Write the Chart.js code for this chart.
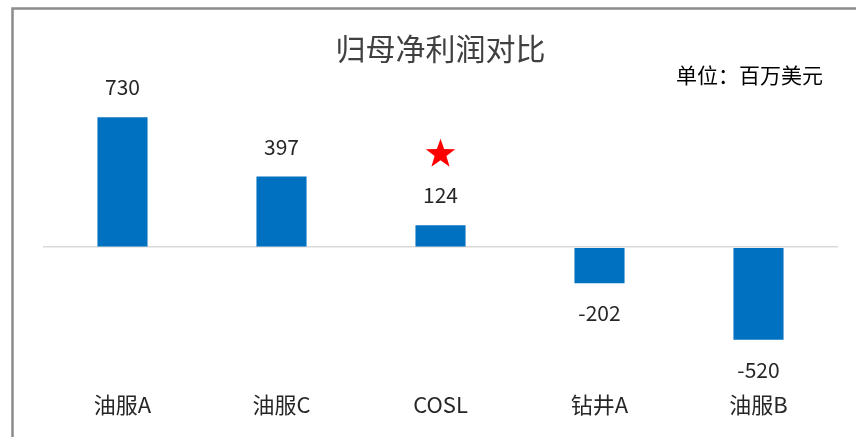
<!DOCTYPE html>
<html>
<head>
<meta charset="utf-8">
<title>归母净利润对比</title>
<script src="https://cdn.jsdelivr.net/npm/chart.js@4.4.0/dist/chart.umd.min.js"></script>
<style>
    html, body { margin: 0; padding: 0; background: #ffffff; }
    #wrap { position: relative; width: 856px; height: 437px; }
</style>
</head>
<body>
<div id="wrap"><canvas id="profit-chart" width="856" height="437"></canvas></div>
<script>
// Chart data
const companies = ['油服A', '油服C', 'COSL', '钻井A', '油服B'];
const netProfit = [730, 397, 124, -202, -520];
const highlightCompany = 'COSL';
const unitLabel = '单位：百万美元';

const FONT = '"Noto Sans CJK SC", "Microsoft YaHei", sans-serif';

document.addEventListener("DOMContentLoaded", function() {
    // Frame around the chart (only top and left edges are visible)
    const framePlugin = {
        id: 'frame',
        beforeDraw(chart) {
            const ctx = chart.ctx;
            ctx.save();
            ctx.fillStyle = '#ffffff';
            ctx.fillRect(0, 0, chart.width, chart.height);
            ctx.strokeStyle = '#8c8c8c';
            ctx.lineWidth = 2.5;
            ctx.strokeRect(12.5, 8.5, chart.width + 20, chart.height + 20);
            ctx.restore();
        }
    };

    // Value labels, unit text and the red star
    const labelsPlugin = {
        id: 'valueLabels',
        afterDatasetsDraw(chart) {
            const ctx = chart.ctx;
            const meta = chart.getDatasetMeta(0);
            ctx.save();
            ctx.font = '21px ' + FONT;
            ctx.textAlign = 'center';
            ctx.textBaseline = 'middle';
            meta.data.forEach((bar, i) => {
                const v = netProfit[i];
                const y = v >= 0 ? bar.y - 30 : bar.y + 30;
                ctx.fillStyle = '#262626';
                ctx.fillText(String(v), bar.x, y);

                if (companies[i] === highlightCompany) {
                    drawStar(ctx, bar.x, bar.y - 71, 15.5, 6.2);
                }
            });

            // unit note in the upper right
            ctx.textAlign = 'right';
            ctx.fillStyle = '#000000';
            ctx.fillText(unitLabel, 823, 75);
            ctx.restore();
        }
    };

    function drawStar(ctx, cx, cy, outer, inner) {
        ctx.save();
        ctx.beginPath();
        for (let k = 0; k < 10; k++) {
            const r = k % 2 === 0 ? outer : inner;
            const a = -Math.PI / 2 + k * Math.PI / 5;
            const px = cx + r * Math.cos(a);
            const py = cy + r * Math.sin(a);
            if (k === 0) ctx.moveTo(px, py); else ctx.lineTo(px, py);
        }
        ctx.closePath();
        ctx.fillStyle = '#ff0000';
        ctx.fill();
        ctx.restore();
    }

    const ctx = document.getElementById('profit-chart').getContext('2d');

    new Chart(ctx, {
        type: 'bar',
        data: {
            labels: companies,
            datasets: [{
                label: '归母净利润',
                data: netProfit,
                backgroundColor: '#0070c0',
                borderWidth: 0,
                barPercentage: 1,
                categoryPercentage: 0.315
            }]
        },
        options: {
            responsive: false,
            animation: false,
            layout: {
                padding: { left: 43, right: 18, top: 0, bottom: 17 }
            },
            plugins: {
                legend: { display: false },
                tooltip: { enabled: false },
                title: {
                    display: true,
                    text: '归母净利润对比',
                    color: '#404040',
                    font: { family: FONT, size: 30, weight: 'normal' },
                    padding: { top: 31, bottom: 20 }
                }
            },
            scales: {
                x: {
                    grid: { display: false, drawTicks: false },
                    border: { display: false },
                    ticks: {
                        color: '#262626',
                        font: { family: FONT, size: 22 },
                        padding: 2
                    }
                },
                y: {
                    min: -800,
                    max: 900,
                    ticks: { display: false, stepSize: 100 },
                    border: { display: false },
                    grid: {
                        drawTicks: false,
                        lineWidth: 1.5,
                        color: c => c.tick && c.tick.value === 0 ? '#d9d9d9' : 'rgba(0,0,0,0)'
                    }
                }
            }
        },
        plugins: [framePlugin, labelsPlugin]
    });
});
</script>
</body>
</html>
